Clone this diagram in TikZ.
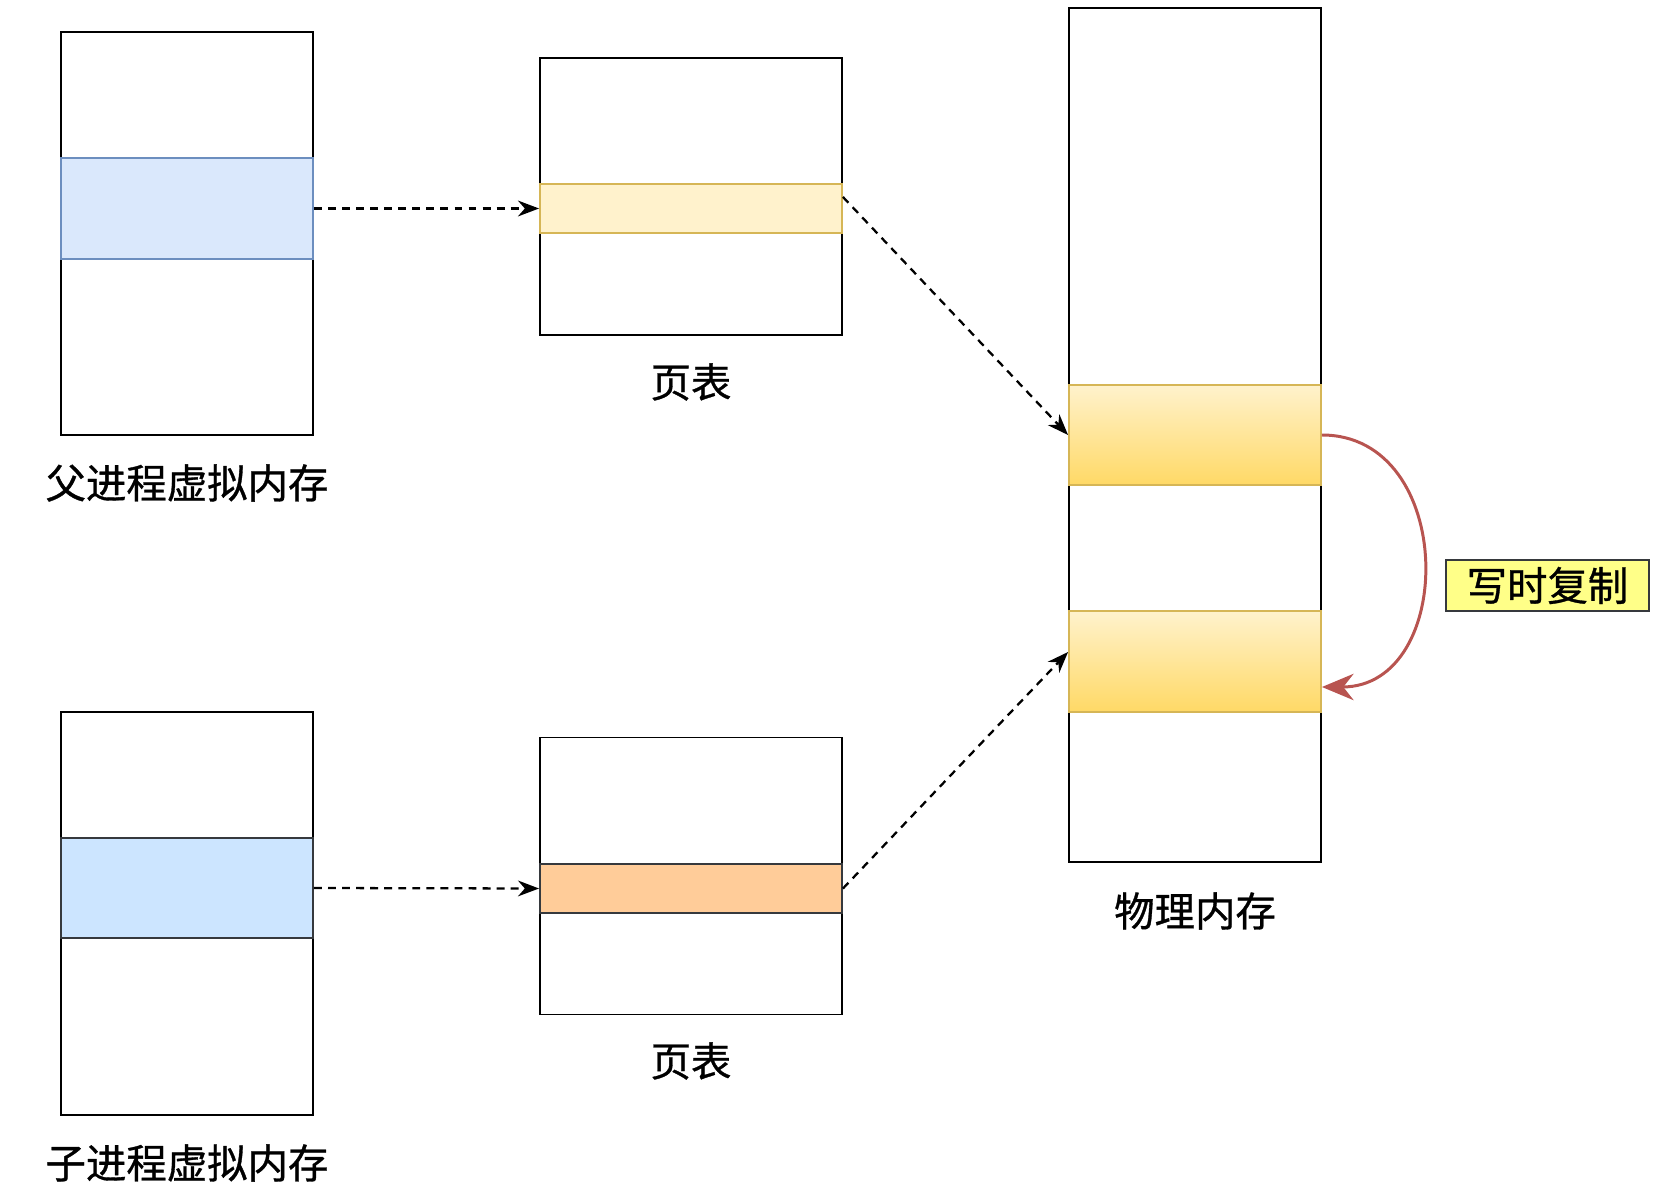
\documentclass[tikz,border=0pt]{standalone}
\usepackage{fontspec}
\newfontfamily\cjk[FakeBold=0.8]{Noto Sans CJK SC}
\usetikzlibrary{arrows.meta,positioning}
\definecolor{lineGray}{HTML}{36393D}
\definecolor{bandBlue}{HTML}{DAE8FC}
\definecolor{bandBlueLine}{HTML}{6C8EBF}
\definecolor{childBlue}{HTML}{CCE5FF}
\definecolor{rowYellow}{HTML}{FFF2CC}
\definecolor{rowYellowLine}{HTML}{D6B656}
\definecolor{rowOrange}{HTML}{FFCC99}
\definecolor{pageTop}{HTML}{FFF2CC}
\definecolor{pageBottom}{HTML}{FFD966}
\definecolor{noteYellow}{HTML}{FFFF88}
\definecolor{copyRed}{HTML}{B85450}

\begin{document}
\begin{tikzpicture}[x=0.02cm, y=-0.02cm,
    every node/.style={font=\cjk\fontsize{23}{27}\selectfont},
    memcol/.style={draw=black, line width=1.1pt, minimum width=5.04cm, inner sep=0pt},
    tablecol/.style={draw=black, line width=1.1pt, minimum width=6.04cm, minimum height=5.54cm, inner sep=0pt},
    link/.style={-{Stealth[length=12pt,width=9pt]}, dashed, dash pattern=on 4.5pt off 3.5pt, line width=1.3pt}]
    \useasboundingbox (0,0) rectangle (1676,1192);
    \node[memcol, minimum height=8.06cm] (pvm) at (187,233.5) {};
    \node[memcol, minimum height=2.02cm, fill=bandBlue, draw=bandBlueLine] (pband) at (187,208.5) {};
    \node[tablecol] (ppt) at (691,196.5) {};
    \node[tablecol, minimum height=0.98cm, fill=rowYellow, draw=rowYellowLine] (prow) at (691,208.5) {};
    \node[memcol, minimum height=17.1cm] (phy) at (1195,435) {};
    \node[memcol, minimum height=2.0cm, top color=pageTop, bottom color=pageBottom, draw=rowYellowLine] (blk1) at (1195,435) {};
    \node[memcol, minimum height=2.02cm, top color=pageTop, bottom color=pageBottom, draw=rowYellowLine] (blk2) at (1195,661.5) {};
    \node[memcol, minimum height=8.06cm] (cvm) at (187,913.5) {};
    \node[memcol, minimum height=2.0cm, fill=childBlue, draw=lineGray] (cband) at (187,888) {};
    \node[tablecol] (cpt) at (691,876) {};
    \node[tablecol, minimum height=0.98cm, fill=rowOrange, draw=lineGray] (crow) at (691,888.5) {};
    \node[draw=lineGray, line width=1.1pt, fill=noteYellow, minimum width=4.06cm, minimum height=1.02cm, inner sep=0pt] (cow) at (1547.5,585.5) {写时复制};
    \node (pvmtxt) at (187,483) {父进程虚拟内存};
    \node (ppttxt) at (691,382) {页表};
    \node (phytxt) at (1195,911) {物理内存};
    \node (cpttxt) at (691,1061) {页表};
    \node (cvmtxt) at (187,1163) {子进程虚拟内存};
    \draw[link] (pband.east) -- (prow.west);
    \draw[link] (cband.east) -- (crow.west);
    \draw[link] ([yshift=0.23cm]prow.east) -- (blk1.west);
    \draw[link] (crow.east) -- ([yshift=0.19cm]blk2.west);
    \draw[-{Stealth[length=18pt,width=15pt]}, copyRed, line width=1.7pt] (blk1.east) .. controls +(135,0) and +(135,0) .. ([yshift=-0.51cm]blk2.east);
\end{tikzpicture}
\end{document}
